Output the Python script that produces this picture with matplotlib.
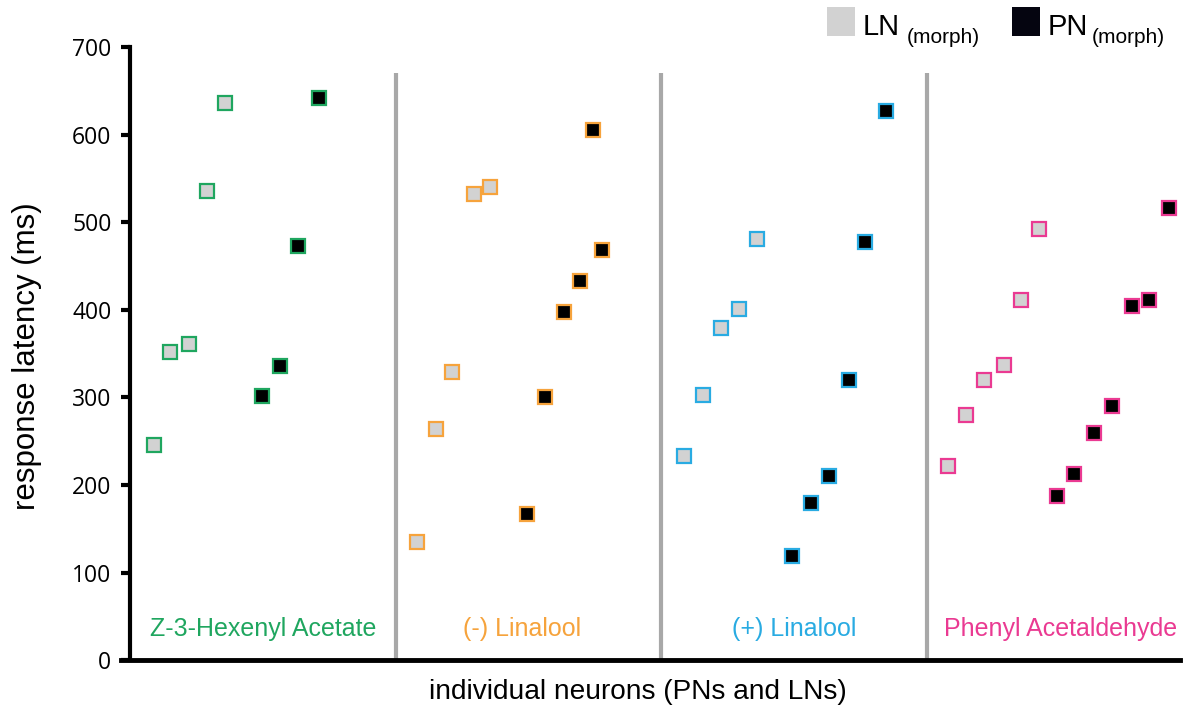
import matplotlib
matplotlib.use("Agg")
import matplotlib.pyplot as plt
from matplotlib.patches import Rectangle

# neuron positions (slot index along x) and response latencies (ms)
z3ha_ln_x = [1.3, 2.2, 3.2, 4.2, 5.2]
z3ha_ln_y = [246, 352, 361, 536, 636]
z3ha_pn_x = [7.2, 8.2, 9.2, 10.3]
z3ha_pn_y = [302, 336, 473, 642]

minus_lin_ln_x = [15.7, 16.7, 17.6, 18.8, 19.7]
minus_lin_ln_y = [135, 264, 329, 533, 541]
minus_lin_pn_x = [21.7, 22.7, 23.7, 24.6, 25.3, 25.8]
minus_lin_pn_y = [167, 301, 398, 433, 606, 468]

plus_lin_ln_x = [30.3, 31.3, 32.3, 33.3, 34.3]
plus_lin_ln_y = [233, 303, 379, 401, 481]
plus_lin_pn_x = [36.2, 37.2, 38.2, 39.3, 40.2, 41.3]
plus_lin_pn_y = [119, 180, 210, 320, 478, 627]

phenyl_ln_x = [44.7, 45.7, 46.7, 47.8, 48.7, 49.7]
phenyl_ln_y = [222, 280, 320, 337, 411, 493]
phenyl_pn_x = [50.7, 51.6, 52.7, 53.7, 54.8, 55.7, 56.8]
phenyl_pn_y = [188, 213, 259, 290, 404, 411, 516]

odor_names = ['Z-3-Hexenyl Acetate', '(-) Linalool', '(+) Linalool', 'Phenyl Acetaldehyde']
odor_colors = ['#1fa65f', '#f6a33c', '#29abe2', '#ea3a92']
label_x = [7.3, 21.45, 36.3, 50.85]
divider_x = [14.55, 29.0, 43.55]

groups = [
    (z3ha_ln_x, z3ha_ln_y, z3ha_pn_x, z3ha_pn_y),
    (minus_lin_ln_x, minus_lin_ln_y, minus_lin_pn_x, minus_lin_pn_y),
    (plus_lin_ln_x, plus_lin_ln_y, plus_lin_pn_x, plus_lin_pn_y),
    (phenyl_ln_x, phenyl_ln_y, phenyl_pn_x, phenyl_pn_y),
]

ln_fill = '#d2d2d2'
pn_fill = '#000000'

fig = plt.figure(figsize=(11.87, 7.15), dpi=100)
ax = fig.add_axes([0.10194, 0.07692, 0.89216, 0.8591])

# gray separators between odors
for xd in divider_x:
    ax.plot([xd, xd], [0, 671], color='#a8a8a8', lw=3, solid_capstyle='butt', zorder=1)

for (lnx, lny, pnx, pny), col in zip(groups, odor_colors):
    ax.plot(lnx, lny, 's', ms=10, mfc=ln_fill, mec=col, mew=1.6, zorder=3)
    ax.plot(pnx, pny, 's', ms=10, mfc=pn_fill, mec=col, mew=1.6, zorder=3)

for name, col, lx in zip(odor_names, odor_colors, label_x):
    ax.text(lx, 36, name, color=col, fontsize=18, family='Liberation Sans',
            ha='center', va='center')

ax.set_xlim(-0.5, 57.4)
ax.set_ylim(0, 702)
ax.set_yticks([0, 100, 200, 300, 400, 500, 600, 700])
ax.set_xticks([])

for s in ['top', 'right']:
    ax.spines[s].set_visible(False)
ax.spines['left'].set_position(('data', 0))
ax.spines['left'].set_bounds(0, 700)
ax.spines['left'].set_linewidth(3)
ax.spines['bottom'].set_linewidth(3.5)
ax.tick_params(axis='y', length=6.5, width=3, pad=7, labelsize=16.5)
for lab in ax.get_yticklabels():
    lab.set_family('Open Sans')

ax.set_ylabel('response latency (ms)', fontsize=22.5, family='Liberation Sans')
ax.yaxis.set_label_coords(-0.0746, 0.495)
ax.set_xlabel('individual neurons (PNs and LNs)', fontsize=20.2, family='Liberation Sans')
ax.xaxis.set_label_coords(0.488, -0.0310)

# legend at the top
fig.patches.append(Rectangle((0.6967, 0.9497), 0.0236, 0.0406, transform=fig.transFigure,
                             facecolor=ln_fill, edgecolor='none'))
fig.patches.append(Rectangle((0.8526, 0.9497), 0.0236, 0.0406, transform=fig.transFigure,
                             facecolor='#050510', edgecolor='none'))
fig.text(0.7270, 0.951, 'LN', fontsize=21, family='Liberation Sans', va='baseline')
fig.text(0.7641, 0.940, '(morph)', fontsize=15, family='Liberation Sans', va='baseline')
fig.text(0.8830, 0.951, 'PN', fontsize=21, family='Liberation Sans', va='baseline')
fig.text(0.9195, 0.940, '(morph)', fontsize=15, family='Liberation Sans', va='baseline')

fig.savefig('out.png', dpi=100)
